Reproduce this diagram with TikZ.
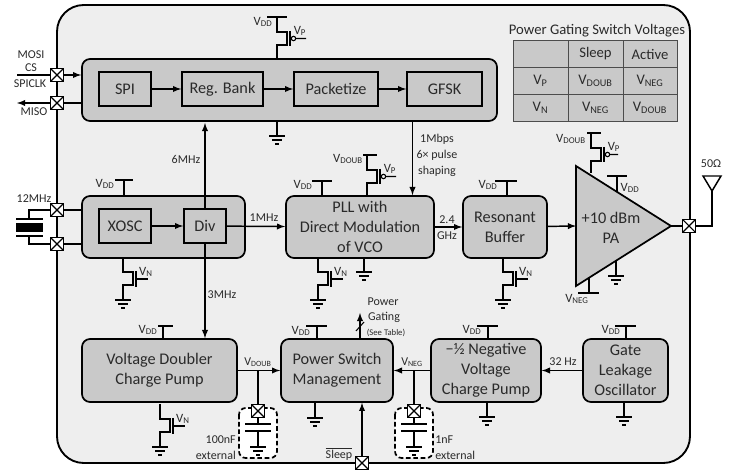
\documentclass[tikz,border=0pt]{standalone}
\usepackage{fontspec}
\setmainfont{Carlito}
\usepackage{tikz}
\usetikzlibrary{arrows,positioning}

\definecolor{chipgray}{HTML}{EEEEEE}
\definecolor{blockgray}{HTML}{C9C9C9}
\definecolor{textgray}{HTML}{2A2A2A}

\def\px{0.75pt}
\newcommand{\vsub}[1]{V\textsubscript{#1}}

\tikzset{
  blockbox/.style 2 args={draw, line width=1.3pt, fill=blockgray, rounded corners=6pt, align=center, inner sep=0pt,
      text=textgray, minimum width=#1*\px, minimum height=#2*\px, font=\fontsize{12.2}{15}\selectfont},
  innerbox/.style 2 args={blockbox={#1}{#2}, sharp corners},
  pad/.style={draw, line width=1.2pt, fill=white, minimum size=13*\px, inner sep=0pt,
      path picture={\draw[line width=0.8pt] (path picture bounding box.south west) -- (path picture bounding box.north east)
                    (path picture bounding box.north west) -- (path picture bounding box.south east);}},
  sig/.style={line width=1.1pt, -latex},
  wire/.style={line width=0.8pt},
  lab/.style={text=textgray, inner sep=0pt, font=\fontsize{9}{10}\selectfont},
  vlab/.style={text=textgray, inner sep=0pt, font=\fontsize{9.5}{10}\selectfont},
  cell/.style 2 args={draw=black!70, line width=0.7pt, fill=blockgray, text=textgray, inner sep=0pt,
      minimum width=#1*\px, minimum height=#2*\px, font=\fontsize{11}{12}\selectfont},
}

\begin{document}
\begin{tikzpicture}[x=0.75pt, y=-0.75pt]
  \useasboundingbox (0,0) rectangle (733,470);

  %chip outline
  \node[draw, line width=1.4pt, fill=chipgray, rounded corners=20pt, minimum width=633*\px, minimum height=458*\px, inner sep=0pt] (chip) at (373.5,234) {};

  %outer blocks
  \foreach \x/\y/\w/\h/\name/\txt in {
      289.5/90/415/62/digi/,
      163.5/227/163/62/clk/,
      360/227/148/62/pll/{PLL with\\Direct Modulation\\of VCO},
      505/227/84/62/buf/{Resonant\\Buffer},
      159.5/370.5/155/63/dbl/{Voltage Doubler\\Charge Pump},
      337/370.5/112/63/psw/{Power Switch\\Management},
      486/370.5/110/63/neg/{−½ Negative\\Voltage\\Charge Pump},
      625.5/370.5/85/63/osc/{Gate\\Leakage\\Oscillator}}{
    \node[blockbox={\w}{\h}] (\name) at (\x,\y) {\txt};
  }

  %inner blocks
  \foreach \x/\y/\w/\name/\txt in {
      125/89/52/spi/SPI, 222.5/89/81/reg/{Reg. Bank}, 336/89/84/pkt/Packetize, 444.5/89/75/gfsk/GFSK,
      125/226/52/xosc/XOSC, 205/226/42/div/Div}{
    \node[innerbox={\w}{34}] (\name) at (\x,\y) {\txt};
  }

  %PA
  \coordinate (paa) at (576,166);
  \coordinate (pab) at (576,286);
  \coordinate (pae) at (671,226);
  \coordinate (paw) at (576,226);
  \draw[line width=1.3pt, fill=blockgray, line join=miter] (paa) -- (pae) -- (pab) -- cycle;
  \node[align=center, inner sep=0pt, text=textgray, font=\fontsize{12.2}{15}\selectfont] (patxt) at (611,228) {+10 dBm\\PA};

  %table
  \node[text=textgray, inner sep=0pt, font=\fontsize{11}{12}\selectfont] (tabtitle) at (597,31) {Power Gating Switch Voltages};
  \foreach \x/\y/\w/\name/\txt in {
      540.5/54/55/t1/, 595.5/54/55/t2/Sleep, 650/54/54/t3/Active,
      540.5/80.5/55/t4/\vsub{P}, 595.5/80.5/55/t5/\vsub{DOUB}, 650/80.5/54/t6/\vsub{NEG},
      540.5/107.5/55/t7/\vsub{N}, 595.5/107.5/55/t8/\vsub{NEG}, 650/107.5/54/t9/\vsub{DOUB}}{
    \node[cell={\w}{27}] (\name) at (\x,\y) {\txt};
  }

  %pads
  \foreach \x/\y/\name in {57/75/pmosi, 57/103/pmiso, 57/210/pxa, 57/244/pxb, 689/226/pant, 362/463/psleep}{
    \node[pad] (\name) at (\x,\y) {};
  }

  %signals
  \draw[sig] (spi) -- (reg);
  \draw[sig] (reg) -- (pkt);
  \draw[sig] (pkt) -- (gfsk);
  \draw[sig] (xosc) -- (div);
  \draw[sig] (div) -- (pll);
  \draw[sig] (pll) -- (buf);
  \draw[sig] (buf) -- (paw);
  \draw[sig] (dbl) -- (psw);
  \draw[sig] (neg) -- (psw);
  \draw[sig] (osc) -- (neg);
  \draw[sig] (pmosi) -- (pmosi -| digi.west);
  \coordinate (misoend) at (17,103);
  \draw[sig] (pmiso) -- (misoend);
  \draw[line width=1.1pt] (digi.west |- pmiso) -- (pmiso);
  \coordinate (mosistart) at (17,75);
  \draw[line width=1.1pt] (mosistart) -- (pmosi);
  \coordinate (updone) at (205,123);
  \draw[sig] (div.north) -- (updone);
  \draw[sig] (div.south) -- (dbl.north -| div.south);
  \draw[sig] (gfsk.south |- digi.south) ++(-32,0) coordinate (txout) -- (txout |- pll.north);
  \draw[line width=1.1pt] (pae) -- (pant);
  \coordinate (gateup) at (360,313);
  \draw[sig] (gateup |- psw.north) -- (gateup);
  \draw[line width=0.8pt] (356,331) -- (364,322);
  \draw[sig] (psleep) -- (psleep |- psw.south);

  %crystal
  \coordinate (xa) at (29,219);
  \coordinate (xb) at (29,236);
  \draw[line width=1.1pt] (pxa) -- (pxa -| xa) -- (xa);
  \draw[line width=1.1pt] (pxb) -- (pxb -| xb) -- (xb);
  \draw[line width=1.1pt] (pxa) -- (pxa -| clk.west);
  \draw[line width=1.1pt] (pxb) -- (pxb -| clk.west);
  \draw[line width=1.1pt] (16,219) -- (43,219) (16,236) -- (43,236);
  \fill (16,223) rectangle (43,232);

  %antenna
  \coordinate (antb) at (712,191);
  \draw[line width=1.1pt] (pant) -- (pant -| antb) -- (antb);
  \draw[line width=1.1pt] (703,176) -- (721,176) -- (antb) -- cycle;

  %external caps
  \foreach \x/\pad/\from/\name in {258/pca/dbl/ca, 414/pcb/neg/cb}{
    \draw[draw=black, line width=1.3pt, dash pattern=on 3.5pt off 2pt, fill=white, rounded corners=5pt] (\x-19,408) rectangle (\x+19,458);
    \node[pad] (\pad) at (\x,411) {};
    \draw[line width=1.1pt] (\x,371) -- (\pad);
    \draw[wire] (\pad) -- (\x,424) (\x-13,424) -- (\x+13,424) (\x-13,431) -- (\x+13,431) (\x,431) -- (\x,447);
  }

  %supply tees: stem x, block y, bar y, bar from, bar to, label x, label y
  \foreach \x/\ya/\yb/\l/\r/\lx/\ly/\name in {
      124/196/180/115/133/105/184/vdda, 322/196/181/312/332/303/185/vddb, 507/196/181/495/517/488/185/vddc,
      617/192/176/607/627/630/188/vddd, 163/339/326/158/173/148/330/vdde, 317/339/326/306/327/301/331/vddf,
      488/339/326/477/498/472/330/vddg, 626/339/326/615/636/611/330/vddh}{
    \draw[wire] (\x,\ya) -- (\x,\yb) (\l,\yb) -- (\r,\yb);
    \node[vlab] (\name) at (\lx,\ly) {\vsub{DD}};
  }
  \draw[wire] (589,278) -- (589,293) (578,293) -- (599,293);
  \node[vlab] (vnega) at (577,299) {\vsub{NEG}};

  %pmos
  \foreach \x/\ya/\yb/\yc/\ye/\l/\r/\lx/\ly/\gx/\glab/\name in {
      277/59/17/32/59/267/287/263/22/306/{\vsub{DD}}/pdig,
      367/196/155/170/196/363/377/348/159/396/{\vsub{DOUB}}/ppll,
      591/173/133/148/173/587/601/571/139/618/{\vsub{DOUB}}/ppa}{
    \draw[wire] (\x,\ya) -- (\x,\yc+13) -- (\x+10,\yc+13) -- (\x+10,\yc) -- (\x,\yc) -- (\x,\yb) (\l,\yb) -- (\r,\yb);
    \draw[wire] (\x+13,\yc-1) -- (\x+13,\yc+14);
    \draw[wire] (\x+16.5,\yc+6.5) circle (2.2) (\x+18.7,\yc+6.5) -- (\gx,\yc+6.5);
    \node[vlab] (\name) at (\lx,\ly) {\glab};
    \node[vlab] (\name g) at (\x+23,\yc-1) {\vsub{P}};
  }

  %nmos
  \foreach \x/\ya/\yc/\name in {123/258/272/nclk, 318/258/272/npll, 503/258/272/nbuf, 160/404/419/ndbl}{
    \draw[wire] (\x,\ya) -- (\x,\yc) -- (\x+10,\yc) -- (\x+10,\yc+13) -- (\x,\yc+13) -- (\x,\yc+28);
    \draw[wire] (\x+13,\yc-1) -- (\x+13,\yc+15) (\x+13,\yc+7) -- (\x+25,\yc+7);
    \node[vlab] (\name) at (\x+23,\yc) {\vsub{N}};
  }

  %grounds: x, stem from, stem to
  \foreach \x/\ya/\yb in {277/121/136, 364/258/272, 616/261/276, 123/300/300, 318/300/300, 503/300/300, 160/447/447,
      258/447/447, 414/447/447, 315/402/418, 487/402/417, 624/402/417}{
    \draw[wire] (\x,\ya) -- (\x,\yb) (\x-8,\yb) -- (\x+8,\yb) (\x-5,\yb+4) -- (\x+5,\yb+4) (\x-2,\yb+8) -- (\x+2,\yb+8);
  }

  %labels
  \foreach \x/\y/\name/\txt in {
      31/55/lmosi/MOSI, 31/68/lcs/CS, 30/84/lclk/SPICLK, 34/112/lmiso/MISO, 34/199/lxtal/12MHz,
      186/159/l6m/6MHz, 222/295/l3m/3MHz, 264/218/l1m/1MHz, 447/220/l24/2.4, 447/236/lghz/GHz,
      437/139/lrate/1Mbps, 437/155/lpulse/6× pulse, 437/171/lshape/shaping, 711/164/lant/50Ω,
      563/362/l32/32 Hz, 383/302/lpow/Power, 384/317/lgat/Gating, 339/454/lsleep/{$\overline{\mbox{Sleep}}$},
      258/362/lvd/\vsub{DOUB}, 412/362/lvn/\vsub{NEG}}{
    \node[lab] (\name) at (\x,\y) {\txt};
  }
  \node[lab, font=\fontsize{6.5}{7}\selectfont] (lsee) at (386,333) {(See Table)};
  \node[lab, anchor=east] (l100) at (236,440) {100nF};
  \node[lab, anchor=east] (lexta) at (236,455) {external};
  \node[lab, anchor=west] (l1n) at (435,440) {1nF};
  \node[lab, anchor=west] (lextb) at (435,455) {external};
\end{tikzpicture}
\end{document}
